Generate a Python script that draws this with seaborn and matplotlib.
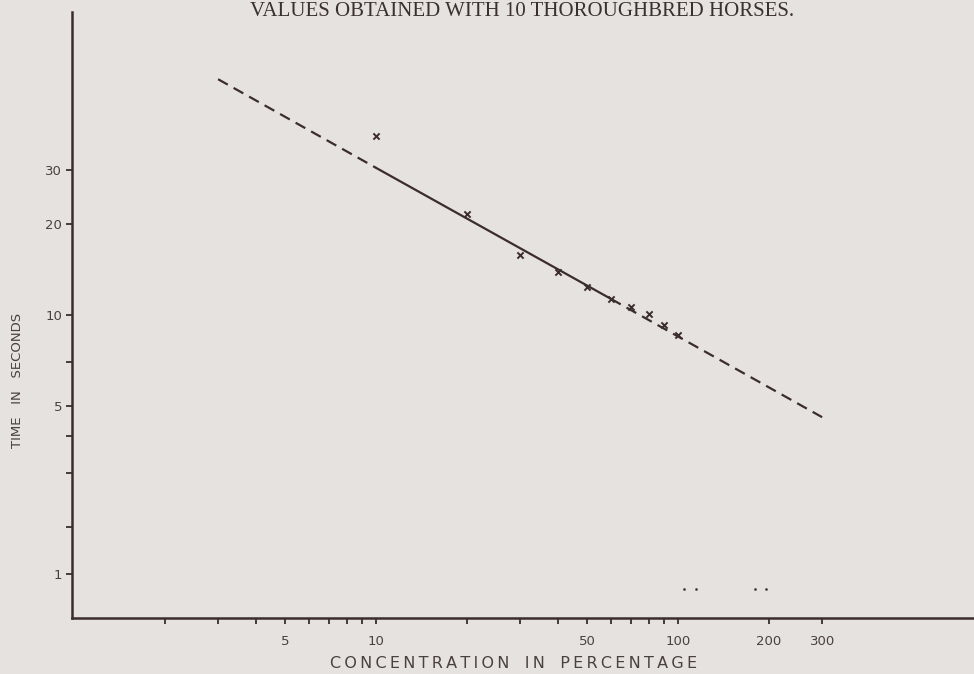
import numpy as np
import pandas as pd
import matplotlib
matplotlib.use("Agg")
import matplotlib.pyplot as plt
import seaborn as sns

# observed values (concentration %, time in seconds)
conc = [10, 20, 30, 40, 50, 60, 70, 80, 90, 100]
time_sec = [39.0, 21.5, 15.8, 13.9, 12.4, 11.3, 10.6, 10.1, 9.3, 8.6]

fit_x_low = [3, 10]
fit_y_low = [60, 30.6]
fit_x_mid = [10, 60]
fit_y_mid = [30.6, 11.3]
fit_x_high = [60, 300]
fit_y_high = [11.3, 4.6]

# stray marks near the bottom
stray_x = [105, 115, 180, 195]
stray_y = [1.25, 1.25, 1.25, 1.25]

x_ticks = [5, 10, 50, 100, 200, 300]
x_minor = [2, 3, 4, 6, 7, 8, 9, 20, 30, 40, 60, 70, 80, 90]
y_ticks = [1.4, 5, 10, 20, 30]
y_tick_labels = ["1", "5", "10", "20", "30"]
y_minor = [2, 3, 4, 7]

paper = "#e6e2df"
ink = "#3b2d2d"


def spaced(text, gap="\u2009"):
    # letter-spaced caps like the printed original
    return "   ".join(gap.join(word) for word in text.split())


sns.set_style("ticks")
plt.rcParams["font.family"] = ["DejaVu Sans"]

fig = plt.figure(figsize=(9.74, 6.74), dpi=100, facecolor=paper)
ax = fig.add_axes([72 / 974, 1 - 618 / 674, 902 / 974, 606 / 674])
ax.set_facecolor(paper)

df = pd.DataFrame({"conc": conc, "time": time_sec})

sns.lineplot(x=fit_x_low, y=fit_y_low, ax=ax, color=ink, lw=1.6, linestyle=(0, (5, 3)))
sns.lineplot(x=fit_x_mid, y=fit_y_mid, ax=ax, color=ink, lw=1.6)
sns.lineplot(x=fit_x_high, y=fit_y_high, ax=ax, color=ink, lw=1.6, linestyle=(0, (5, 3)))
sns.scatterplot(data=df, x="conc", y="time", ax=ax, marker="x", s=20,
                color=ink, linewidth=1.4, zorder=5)
sns.scatterplot(x=stray_x, y=stray_y, ax=ax, marker=".", s=10, color=ink,
                edgecolor=None, zorder=5)

ax.set_xscale("log")
ax.set_yscale("log")
ax.set_xlim(0.985, 955)
ax.set_ylim(1, 100)

ax.set_xticks(x_ticks)
ax.set_xticklabels([str(t) for t in x_ticks])
ax.set_xticks(x_minor, minor=True)
ax.set_xticklabels([], minor=True)
ax.set_yticks(y_ticks)
ax.set_yticklabels(y_tick_labels)
ax.set_yticks(y_minor, minor=True)
ax.set_yticklabels([], minor=True)

ax.tick_params(axis="both", which="both", direction="out", length=4, width=1.3,
               color=ink, labelcolor="#4a4040", labelsize=9.5)
ax.tick_params(axis="x", pad=8)
ax.tick_params(axis="y", pad=3)

sns.despine(ax=ax)
for side in ["left", "bottom"]:
    ax.spines[side].set_color(ink)
    ax.spines[side].set_linewidth(1.8)

ax.set_xlabel("")
ax.set_ylabel("")
fig.text(514 / 974, 1 - 664 / 674, spaced("CONCENTRATION IN PERCENTAGE"),
         ha="center", va="center", fontsize=11.5, color="#4a4040")
fig.text(18 / 974, 1 - 380 / 674, "TIME   IN   SECONDS", rotation=90,
         ha="center", va="center", fontsize=9.5, color="#4a4040")
fig.text(522 / 974, 1 - 2 / 674, "VALUES OBTAINED WITH 10 THOROUGHBRED HORSES.",
         ha="center", va="top", fontsize=15, color="#3a3030",
         family=["Liberation Serif", "DejaVu Serif"])

fig.savefig("out.png", dpi=100, facecolor=paper)
